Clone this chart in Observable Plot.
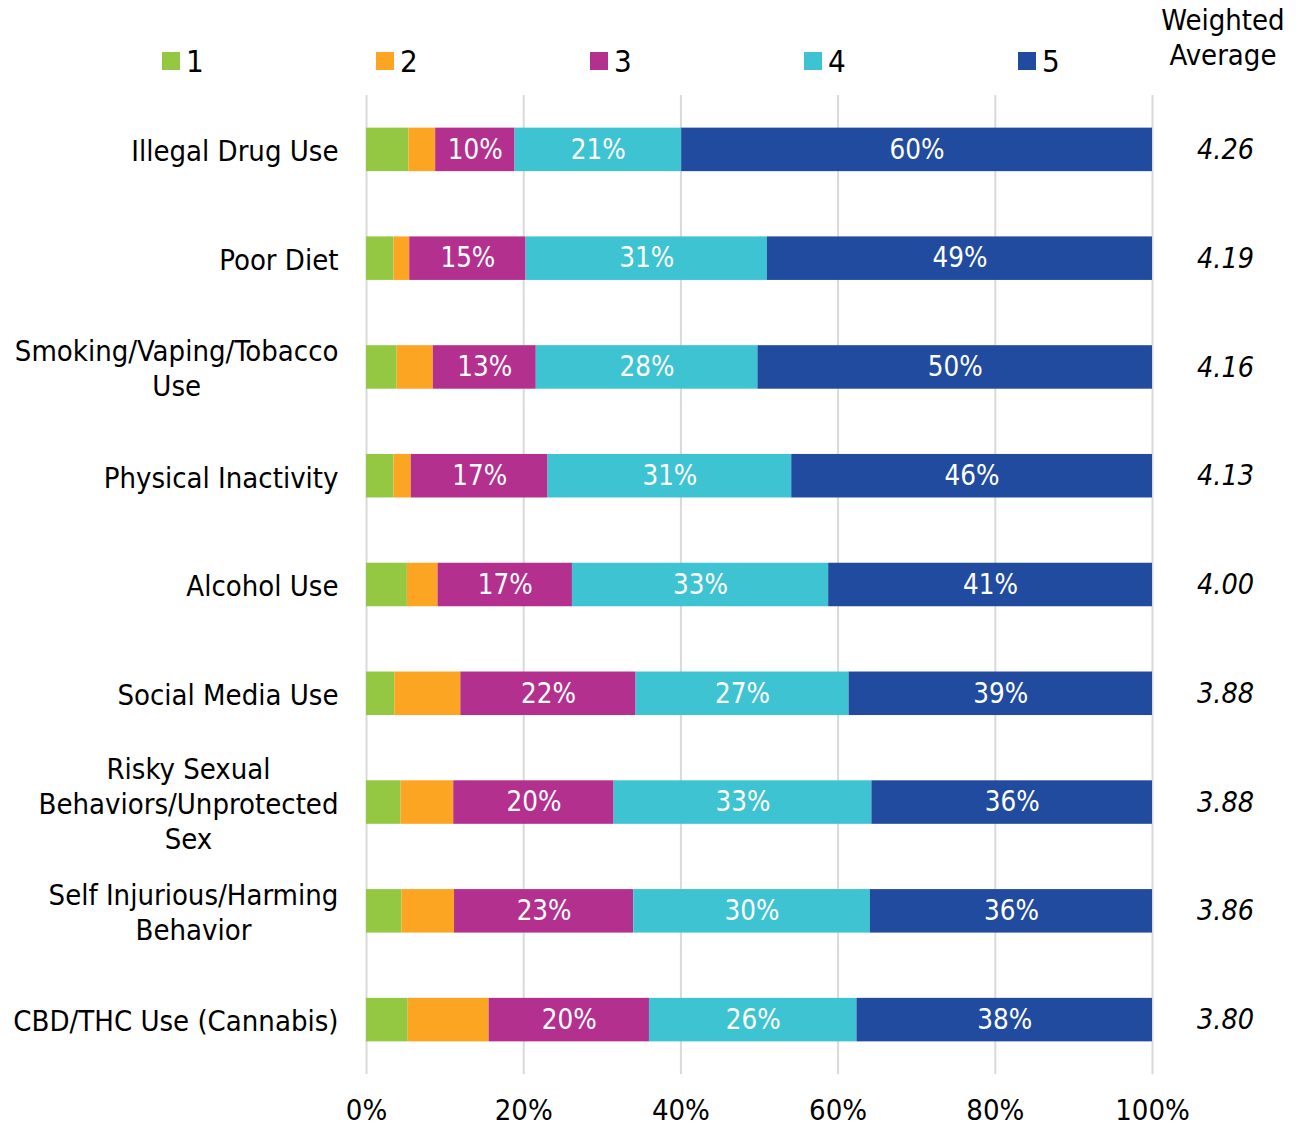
<!DOCTYPE html>
<html>
<head>
<meta charset="utf-8">
<script src="https://cdn.jsdelivr.net/npm/d3@7"></script>
<script src="https://cdn.jsdelivr.net/npm/@observablehq/plot@0.6"></script>
<style>
  html, body { margin: 0; padding: 0; background: #fff; }
  body { width: 1299px; height: 1128px; overflow: hidden; font-family: "DejaVu Sans Condensed", "DejaVu Sans", sans-serif; font-stretch: condensed; }
  #top { position: relative; height: 95px; width: 1299px; }
  #legend { position: absolute; left: 162px; top: 43px; display: flex; }
  .item { width: 214px; display: flex; align-items: center; font-size: 31px; color: #000; }
  .sw { width: 18px; height: 18px; margin-right: 6px; }
  #wa { position: absolute; left: 1143px; width: 160px; top: 3px; text-align: center; font-size: 29px; line-height: 35px; color: #000; }
  #chart svg { display: block; }
</style>
</head>
<body>
<div id="top"><div id="legend"></div><div id="wa"></div></div>
<div id="chart"></div>
<script>
const categories = [
  "Illegal Drug Use",
  "Poor Diet",
  "Smoking/Vaping/Tobacco\nUse",
  "Physical Inactivity",
  "Alcohol Use",
  "Social Media Use",
  "Risky Sexual\nBehaviors/Unprotected\nSex",
  "Self Injurious/Harming\nBehavior",
  "CBD/THC Use (Cannabis)"
];
const levels = ["1", "2", "3", "4", "5"];
const colors = ["#94C843", "#FBA522", "#B3308F", "#3DC3D1", "#214B9F"];
const s1 = [5.4, 3.5, 3.9, 3.5, 5.2, 3.6, 4.4, 4.5, 5.3];
const s2 = [3.4, 2.0, 4.6, 2.2, 3.9, 8.4, 6.7, 6.7, 10.3];
const s3 = [10.1, 14.8, 13.1, 17.4, 17.1, 22.3, 20.4, 22.8, 20.4];
const s4 = [21.2, 30.7, 28.2, 31.0, 32.6, 27.1, 32.8, 30.1, 26.4];
const s5 = [59.9, 49.0, 50.2, 45.9, 41.2, 38.6, 35.7, 35.9, 37.6];
const weightedAvg = ["4.26", "4.19", "4.16", "4.13", "4.00", "3.88", "3.88", "3.86", "3.80"];
const labelledLevels = ["3", "4", "5"];
const xTicks = [0, 20, 40, 60, 80, 100];
const headerText = ["Weighted", "Average"];

const series = [s1, s2, s3, s4, s5];
const data = [];
categories.forEach((c, i) => {
  levels.forEach((l, j) => data.push({cat: c, level: l, value: series[j][i]}));
});

// legend
const leg = document.getElementById("legend");
levels.forEach((l, j) => {
  const it = document.createElement("div");
  it.className = "item";
  it.innerHTML = `<div class="sw" style="background:${colors[j]}"></div><span>${l}</span>`;
  leg.appendChild(it);
});
document.getElementById("wa").innerHTML = headerText.join("<br>");

const FONT = "\"DejaVu Sans Condensed\", \"DejaVu Sans\", sans-serif";

const chart = Plot.plot({
  width: 1299,
  height: 1033,
  marginLeft: 366,
  marginRight: 147,
  marginTop: 0,
  marginBottom: 54,
  style: {fontFamily: FONT, fontSize: "29px", background: "#fff", color: "#000"},
  x: {domain: [0, 100], ticks: xTicks, tickFormat: d => d + "%"},
  y: {domain: categories, paddingInner: 0.6, paddingOuter: 0.3, round: false},
  color: {domain: levels, range: colors},
  marks: [
    Plot.ruleX(xTicks, {stroke: "#D9D9D9", strokeWidth: 2}),
    Plot.barX(data, Plot.stackX({x: "value", y: "cat", fill: "level", order: null})),
    Plot.text(data, Plot.stackX({
      x: "value", y: "cat", order: null,
      text: d => labelledLevels.includes(d.level) ? Math.round(d.value) + "%" : "",
      fill: "white", fontSize: 27.5
    })),
    Plot.text(categories, {
      x: () => 100, y: d => d, text: (d, i) => weightedAvg[i],
      dx: 73, dy: 0, fontStyle: "italic", fontSize: 28.5, fill: "#000"
    }),
    Plot.axisX({ticks: xTicks, tickSize: 0, tickPadding: 25, tickFormat: d => d + "%", label: null, fontSize: 29}),
    Plot.axisY({tickSize: 0, tickPadding: 28, label: null, fontSize: 29, lineHeight: 1.22})
  ]
});
document.getElementById("chart").appendChild(chart);

// centre multi-line y labels within their right-aligned block
chart.querySelectorAll("[aria-label='y-axis tick label'] text").forEach(t => {
  if (t.querySelectorAll("tspan").length > 1) {
    const w = t.getBBox().width;
    const x0 = +(t.getAttribute("x") || 0);
    t.setAttribute("text-anchor", "middle");
    t.querySelectorAll("tspan").forEach(ts => ts.setAttribute("x", x0 - w / 2));
  }
});
</script>
</body>
</html>
